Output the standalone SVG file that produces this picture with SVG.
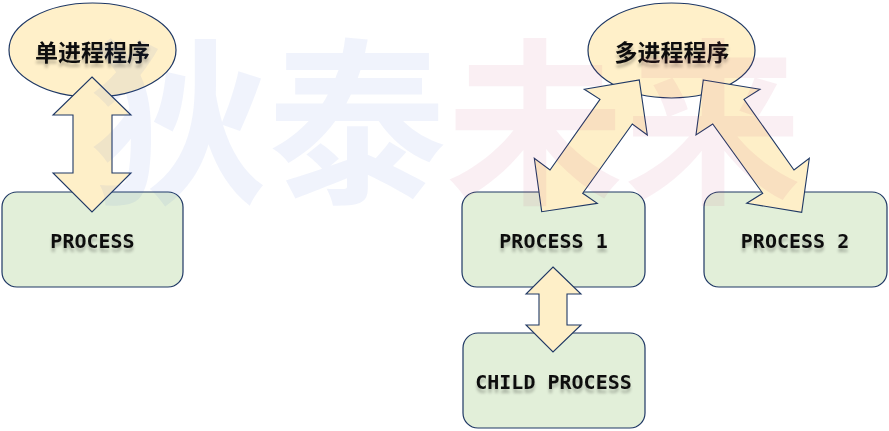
<svg xmlns="http://www.w3.org/2000/svg" width="889" height="431" viewBox="0 0 889 431">
<style>
.ell{fill:#fff0c9;stroke:#1f3864;stroke-width:1.2}
.box{fill:#e2efd9;stroke:#1f3864;stroke-width:1.2}
.arr{fill:#feefc8;stroke:#1f3864;stroke-width:1.1;stroke-linejoin:miter}
.cjk{font-family:"Noto Sans CJK SC","Noto Sans",sans-serif;font-weight:bold;font-size:23px;fill:#111;text-anchor:middle}
.lat{font-family:"DejaVu Sans Mono","Liberation Mono",monospace;font-weight:bold;font-size:20px;fill:#111;text-anchor:middle}
.wm{font-family:"Noto Sans CJK SC",sans-serif;font-weight:bold;font-size:178px}
</style>
<defs>
<filter id="sh" x="-10%" y="-30%" width="120%" height="180%">
<feGaussianBlur in="SourceAlpha" stdDeviation="1.5" result="b"/>
<feOffset in="b" dy="4" result="o"/>
<feComponentTransfer in="o" result="f"><feFuncA type="linear" slope="0.25"/></feComponentTransfer>
<feMerge><feMergeNode in="f"/><feMergeNode in="SourceGraphic"/></feMerge>
</filter>
</defs>
<rect width="889" height="431" fill="#ffffff"/>
<g id="single">
<ellipse class="ell" cx="92.5" cy="50" rx="83.5" ry="47"/>
<text class="cjk" x="92.5" y="61" filter="url(#sh)">单进程程序</text>
</g>
<g id="process">
<rect class="box" x="2" y="192" width="181" height="95" rx="15"/>
<text class="lat" x="92.5" y="248" filter="url(#sh)">PROCESS</text>
</g>
<g id="multi">
<ellipse class="ell" cx="671.5" cy="50.5" rx="83.5" ry="47.5"/>
<text class="cjk" x="672" y="61" filter="url(#sh)">多进程程序</text>
</g>
<g id="process1">
<rect class="box" x="462" y="192" width="183" height="95" rx="15"/>
<text class="lat" x="553.5" y="248" filter="url(#sh)">PROCESS 1</text>
</g>
<g id="process2">
<rect class="box" x="704" y="192" width="183" height="95" rx="15"/>
<text class="lat" x="795" y="248" filter="url(#sh)">PROCESS 2</text>
</g>
<g id="child">
<rect class="box" x="463" y="333" width="182" height="95" rx="15"/>
<text class="lat" x="553.5" y="389" filter="url(#sh)">CHILD PROCESS</text>
</g>
<g id="connectors">
<polygon class="arr" points="92,77 131,115 112,115 112,173 131,173 92,212 53,173 73,173 73,115 53,115"/>
<polygon class="arr" points="553,267 581,294 567,294 567,325 581,325 553,352 526,325 539,325 539,294 526,294"/>
<polygon class="arr" points="639.3,80 647.3,135 632.3,124 582.7,193.3 597.3,203.3 541.7,211.7 534.3,158.3 550,170 600,99.3 584.3,89.3"/>
<polygon class="arr" points="703.3,80 760,89.3 744,99.3 794,170 809.3,158.3 801.7,212.3 746.7,203.3 762.7,193.3 712.7,124 696,135"/>
</g>
<g id="watermark">
<text class="wm" x="90" y="190" fill="#2b5cd6" fill-opacity="0.07">狄泰</text>
<text class="wm" x="446" y="190" fill="#c03060" fill-opacity="0.08">未来</text>
</g>
</svg>
